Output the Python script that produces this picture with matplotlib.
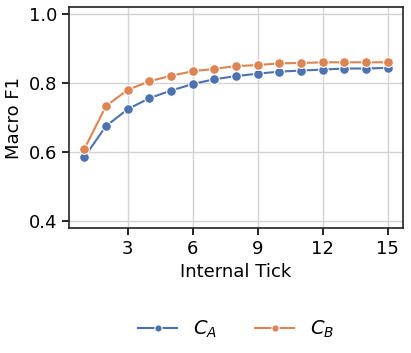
import numpy as np
import matplotlib
matplotlib.use("Agg")
from matplotlib import pyplot as plt

# data
ticks = list(range(1, 16))
c_a = [0.585, 0.675, 0.724, 0.756, 0.778, 0.797, 0.811, 0.820, 0.827,
       0.833, 0.836, 0.839, 0.842, 0.842, 0.844]
c_b = [0.608, 0.733, 0.780, 0.805, 0.821, 0.834, 0.841, 0.849, 0.852,
       0.857, 0.858, 0.860, 0.860, 0.860, 0.860]
labels = ["$C_A$", "$C_B$"]
colors = ["#4c72b0", "#dd8452"]

fig = plt.figure(figsize=(4.11, 3.53), dpi=100)
ax = fig.add_axes([0.168, 0.354, 0.8125, 0.626])

for vals, lab, col in zip([c_a, c_b], labels, colors):
    ax.plot(ticks, vals, color=col, marker="o", markersize=7,
            markeredgecolor="white", markeredgewidth=0.8, linewidth=1.5, label=lab)

ax.set_ylim(0.38, 1.02)
ax.set_yticks([0.4, 0.6, 0.8, 1.0])
ax.set_xticks([3, 6, 9, 12, 15])
ax.grid(True, color="#d3d3d3", linewidth=1)
ax.set_axisbelow(True)
ax.tick_params(labelsize=13, length=5, width=1.2)
for s in ax.spines.values():
    s.set_linewidth(1.2)
    s.set_color("#222222")
ax.set_xlabel("Internal Tick", fontsize=13)
ax.set_ylabel("Macro F1", fontsize=13)

ax.legend(loc="upper center", bbox_to_anchor=(0.5, -0.33), ncol=2, frameon=False,
          fontsize=14, columnspacing=2.0, handlelength=2.0, markerscale=0.75)

fig.savefig("out.png", dpi=100)
